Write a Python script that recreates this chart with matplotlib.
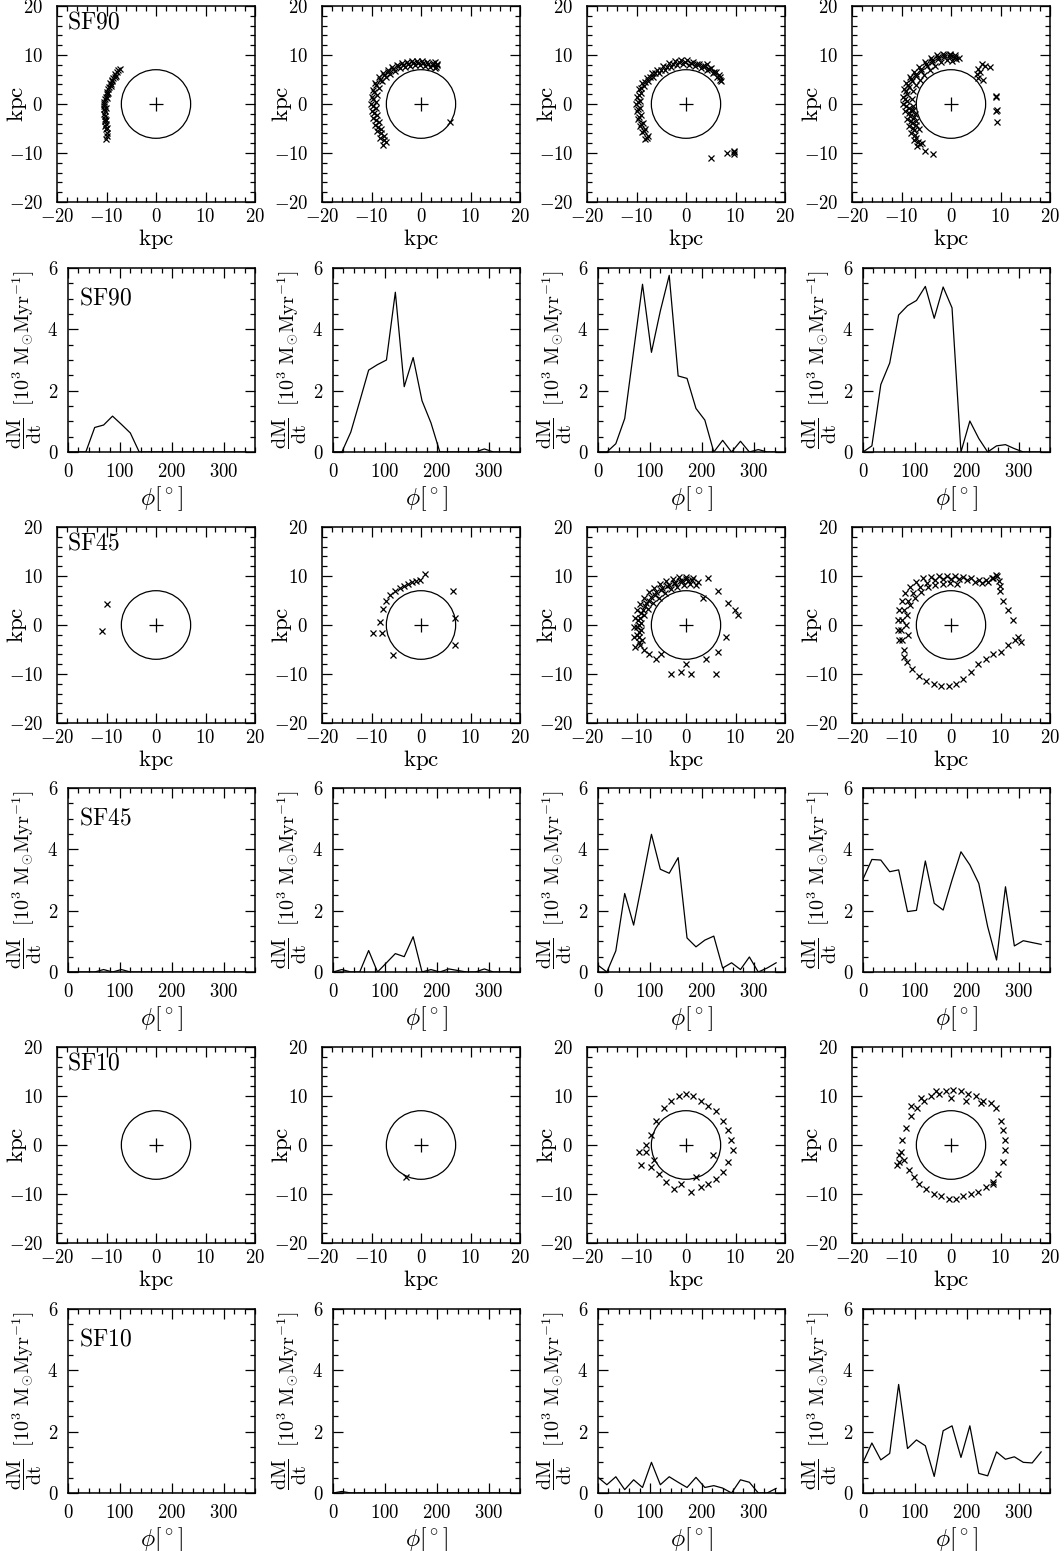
import numpy as np
import matplotlib
matplotlib.use('Agg')
import matplotlib.pyplot as plt
from matplotlib.ticker import MultipleLocator, FuncFormatter
from matplotlib.patches import Circle

plt.rcParams['mathtext.fontset'] = 'cm'
plt.rcParams['font.family'] = 'serif'
plt.rcParams['font.serif'] = ['DejaVu Serif']

# ---------------- data ----------------
phi_bins = [0, 17.1, 34.3, 51.4, 68.6, 85.7, 102.9, 120.0, 137.1, 154.3, 171.4,
            188.6, 205.7, 222.9, 240.0, 257.1, 274.3, 291.4, 308.6, 325.7, 342.9]

# dM/dt [1e3 Msun/Myr]
sf90_t1 = [0, 0, 0, 0.80, 0.88, 1.17, 0.90, 0.62, 0, 0, 0, 0, 0, 0, 0, 0, 0, 0, 0, 0, 0]
sf90_t2 = [0, 0, 0.65, 1.65, 2.67, 2.85, 3.00, 5.21, 2.13, 3.08, 1.67, 0.95, 0, 0, 0, 0, 0, 0.10, 0, 0, 0]
sf90_t3 = [0, 0, 0.27, 1.09, 3.30, 5.47, 3.25, 4.60, 5.76, 2.48, 2.40, 1.42, 1.04, 0, 0.38, 0, 0.35, 0, 0.08, 0, 0]
sf90_t4 = [0, 0.20, 2.20, 2.90, 4.47, 4.77, 4.94, 5.40, 4.36, 5.38, 4.70, 0, 1.01, 0.44, 0, 0.20, 0.24, 0.11, 0, 0, 0]

sf45_t1 = [0, 0, 0, 0, 0.08, 0, 0.08, 0, 0, 0, 0, 0, 0, 0, 0, 0, 0, 0, 0, 0, 0]
sf45_t2 = [0, 0.08, 0, 0, 0.70, 0, 0.30, 0.60, 0.50, 1.15, 0, 0.08, 0, 0.10, 0.05, 0, 0, 0.10, 0, 0, 0]
sf45_t3 = [0.22, 0, 0.69, 2.56, 1.53, 2.99, 4.49, 3.35, 3.22, 3.73, 1.11, 0.82, 1.04, 1.17, 0.13, 0.30, 0.08, 0.49, 0, 0.13, 0.30]
sf45_t4 = [3.03, 3.67, 3.65, 3.27, 3.33, 1.97, 2.01, 3.62, 2.24, 2.02, 3.00, 3.92, 3.49, 2.89, 1.48, 0.39, 2.78, 0.85, 1.02, 0.96, 0.90]

sf10_t1 = [0] * 21
sf10_t2 = [0, 0.05, 0, 0, 0, 0, 0, 0, 0, 0, 0, 0, 0, 0, 0, 0, 0, 0, 0, 0, 0]
sf10_t3 = [0.51, 0.27, 0.53, 0.11, 0.43, 0.18, 1.00, 0.27, 0.53, 0.35, 0.18, 0.51, 0.18, 0.24, 0.16, 0, 0.43, 0.35, 0, 0, 0.15]
sf10_t4 = [1.00, 1.63, 1.08, 1.29, 3.54, 1.45, 1.73, 1.54, 0.54, 2.03, 2.19, 1.16, 2.19, 0.64, 0.56, 1.34, 1.10, 1.18, 1.00, 0.98, 1.34]

# particle positions [kpc]
sf90_p1_x = [-7.6, -7.9, -8.3, -8.0, -8.6, -8.9, -9.1, -9.4, -9.6, -9.8, -10.0, -10.2, -10.4, -10.5,
             -10.6, -10.5, -10.6, -10.4, -10.5, -10.3, -10.4, -10.3, -10.2, -10.3, -10.1, -10.0, -9.9, -10.1,
             -7.2, -8.8, -9.3, -10.0, -8.2, -9.0, -9.6, -10.1, -10.2, -10.0]
sf90_p1_y = [6.9, 6.5, 6.2, 5.8, 5.3, 4.6, 4.0, 3.5, 3.0, 2.5, 2.0, 1.5, 1.0, 0.5,
             0.0, -0.5, -1.0, -1.5, -2.0, -2.5, -3.0, -3.5, -4.0, -4.5, -5.0, -6.0, -6.5, -7.2,
             7.1, 5.0, 4.2, 1.2, 5.6, 3.6, 2.2, -0.8, -3.2, -4.8]

sf90_p2_x = [-7.6, -8.2, -8.8, -9.3, -9.7, -10.0, -10.1, -10.0, -9.7, -9.2, -8.5, -7.6, -6.7, -5.8, -4.8,
             -3.8, -2.8, -1.8, -0.8, 0.2, 1.2, 2.4, 3.3,
             -7.0, -7.5, -8.0, -8.5, -8.9, -9.1, -9.1, -8.9, -8.5, -7.9, -7.1, -6.2, -5.2, -4.2,
             -3.2, -2.2, -1.2, -0.2, 0.8, 1.8, 2.8, 5.9,
             -7.4, -8.0, -8.6, -9.1, -9.4, -9.6, -9.6, -9.4, -9.0, -8.3, -7.5, -6.6, -5.6, -4.6,
             -3.6, -2.6, -1.6, -0.6, 0.4, 1.4, 2.4, 3.0, 3.3, 2.9]
sf90_p2_y = [-8.3, -7.0, -5.6, -4.2, -2.8, -1.4, 0.0, 1.4, 2.8, 4.2, 5.5, 6.3, 7.0, 7.6, 8.0,
             8.4, 8.6, 8.7, 8.8, 8.7, 8.6, 8.4, 8.2,
             -7.8, -6.5, -5.1, -3.7, -2.3, -0.9, 0.5, 1.9, 3.3, 4.6, 5.5, 6.2, 6.8, 7.3,
             7.6, 7.8, 7.9, 7.9, 7.8, 7.6, 7.3, -3.6,
             -7.4, -6.0, -4.6, -3.2, -1.8, -0.4, 1.0, 2.4, 3.8, 5.0, 5.9, 6.6, 7.2, 7.7,
             8.0, 8.2, 8.3, 8.4, 8.3, 8.2, 8.0, 7.6, 7.9, 8.6]

sf90_p3_x = [-8.2, -8.8, -9.3, -9.7, -10.0, -10.1, -9.9, -9.5, -8.8, -7.9, -6.9, -5.8, -4.6, -3.4, -2.2,
             -1.0, 0.3, 1.5, 2.7, 3.9, 5.0, 6.0, 6.8, 7.1,
             -7.6, -8.2, -8.7, -9.1, -9.3, -9.3, -9.0, -8.4, -7.6, -6.6, -5.5, -4.3, -3.1, -1.9,
             -0.6, 0.7, 1.9, 3.1, 4.3, 5.4, 6.3, 4.3, 5.1, 8.3, 9.6, 9.7, 9.6,
             -7.9, -8.5, -9.0, -9.4, -9.7, -9.7, -9.5, -9.0, -8.2, -7.3, -6.2, -5.1, -3.9, -2.7,
             -1.5, -0.2, 1.1, 2.3, 3.5, 4.6, 5.7, 6.6, 6.9]
sf90_p3_y = [-7.2, -5.8, -4.4, -3.0, -1.5, 0.0, 1.5, 3.0, 4.3, 5.4, 6.3, 7.0, 7.7, 8.3, 8.7,
             8.9, 8.9, 8.6, 8.2, 7.8, 7.3, 6.6, 5.6, 4.6,
             -6.6, -5.2, -3.8, -2.3, -0.8, 0.7, 2.2, 3.6, 4.7, 5.6, 6.3, 7.0, 7.6, 7.9,
             8.1, 8.0, 7.8, 7.4, 7.0, 6.4, 5.6, 8.2, -11.0, -9.9, -9.5, -9.8, -10.2,
             -6.9, -5.5, -4.1, -2.6, -1.1, 0.4, 1.9, 3.3, 4.5, 5.5, 6.3, 7.0, 7.6, 8.1,
             8.5, 8.6, 8.4, 8.1, 7.7, 7.2, 6.6, 5.9, 5.0]

sf90_p4_x = [-6.8, -7.4, -8.0, -8.5, -8.8, -9.2, -9.6, -9.7, -9.5, -9.0, -8.3, -7.4, -6.4, -5.3, -4.1,
             -2.9, -1.6, -0.3, 0.9, 1.6,
             -6.3, -7.0, -7.5, -7.9, -8.2, -8.5, -8.8, -8.8, -8.4, -7.8, -7.0, -6.0, -4.9, -3.8,
             -2.6, -1.4, -0.2, 1.0,
             -6.5, -7.0, -7.3, -7.6, -7.8, -7.6, -7.1, -6.3, -5.4, -4.3, -3.2, -2.1, -0.9, 0.3,
             -5.3, -3.6, -5.9, 5.2, 5.5, 6.2, 6.9, 7.9, 6.5, 5.5, 5.8, 9.1, 9.1, 9.1, 9.2, 9.2,
             -6.6, -7.2, -7.7, -8.1, -8.4, -8.1, -9.0, -9.2, -9.1, -8.7, -8.0, -7.1, -6.1, -5.0,
             -3.9, -2.7, -1.5, -0.3, 0.9, -7.1, -7.4, -7.7]
sf90_p4_y = [-8.6, -7.4, -6.0, -4.5, -3.0, -1.5, 0.0, 1.5, 3.0, 4.3, 5.5, 6.6, 7.6, 8.5, 9.3,
             9.9, 10.2, 10.2, 9.9, 9.4,
             -8.2, -6.9, -5.4, -3.9, -2.4, -0.9, 0.6, 2.1, 3.5, 4.7, 5.8, 6.8, 7.7, 8.5,
             9.2, 9.6, 9.5, 9.2,
             -5.0, -3.5, -2.0, -0.5, 1.0, 2.6, 3.9, 5.0, 6.0, 6.9, 7.8, 8.6, 9.0, 8.8,
             -9.5, -10.2, -8.0, 6.1, 7.1, 8.2, 7.8, 7.5, 4.8, 5.4, 6.6, 1.6, 1.4, -1.4, -1.2, -3.7,
             -7.8, -6.4, -4.9, -3.4, -1.9, -1.2, -0.5, 1.0, 2.6, 3.9, 5.1, 6.2, 7.2, 8.1,
             8.9, 9.6, 9.9, 9.9, 9.6, -4.2, -2.7, -1.2]

sf45_p1_x = [-10.9, -9.9]
sf45_p1_y = [-1.2, 4.3]

sf45_p2_x = [-8.3, -9.7, -7.9, -7.7, -7.0, -6.2, -5.2, -4.3, -3.4, -2.6, -1.8, -1.0, -0.3, 0.8, 6.5, 6.9, 6.9, -5.7]
sf45_p2_y = [0.6, -1.6, -1.6, 3.2, 5.0, 6.2, 7.0, 7.6, 8.0, 8.3, 8.7, 9.0, 9.2, 10.5, 6.9, 1.4, -4.0, -6.1]

sf45_p3_x = [-9.5, -9.8, -9.9, -9.6, -9.0, -8.3, -7.4, -6.3, -5.1, -3.8, -2.5, -1.2, 0.0, 1.2, 2.4,
             -8.8, -9.1, -9.0, -8.5, -7.7, -6.7, -5.5, -4.3, -3.0, -1.8, -0.5, 0.8,
             -8.5, -7.5, -6.0, 4.5, 6.5, 8.5, 9.8, 10.5, 8.0, 6.5, 0.0, -1.0, 1.0, -3.0, 6.0, 4.0, -5.0, 3.5,
             -10.3, -10.5, -10.6, -10.3, -9.8, -9.2, -8.4, -7.5, -6.4, -5.2, -4.0, -2.7, -1.4, -0.1, 1.5,
             -9.2, -9.5, -9.5, -9.4, -9.3, -8.7, -8.0, -7.0, -6.0, -4.8, -3.5, -2.2, -0.8, 0.5, 2.0]
sf45_p3_y = [-3.5, -2.0, -0.5, 1.0, 2.5, 3.8, 5.0, 6.2, 7.2, 8.0, 8.6, 9.0, 9.3, 9.2, 8.8,
             -3.0, -1.0, 0.5, 2.0, 3.3, 4.5, 5.6, 6.5, 7.3, 7.8, 8.2, 8.4,
             -5.0, -6.0, -7.0, 9.5, 7.0, 4.5, 3.0, 2.0, -2.5, -5.5, -8.0, -9.5, -10.0, -10.0, -10.0, -7.0, -6.0, 5.5,
             -4.5, -2.5, -0.5, 1.5, 3.0, 4.3, 5.6, 6.7, 7.6, 8.3, 8.9, 9.4, 9.7, 9.8, 9.6,
             -4.0, -2.5, -1.5, 0.0, 1.5, 3.0, 4.5, 5.8, 6.8, 7.5, 8.2, 8.6, 8.9, 9.0, 8.2]

sf45_p4_x = [-9.5, -10.0, -10.2, -10.0, -9.5, -8.7, -7.6, -6.3, -4.8, -3.2, -1.6, 0.0, 1.6, 3.2, 4.8,
             6.3, 7.5, 8.5, 9.2, 9.8, 10.5, 11.5, 12.5, 13.5, 14.2, 13.0, 11.5, 10.0, 8.5, 7.0,
             5.5, 4.0, 2.5, 1.0, -0.5, -2.0, -3.5, -5.0, -6.5, -7.8, -8.8, -9.5,
             -8.7, -9.0, -8.8, -8.2, -7.3, -6.1, -4.7, -3.2, -1.7, -0.2, 1.3,
             -10.5, -10.8, -10.8, -10.5, -10.0, -9.2, -8.2, -7.0, -5.6, -4.0, -2.4, -0.8, 0.8, 2.4,
             4.0, 5.6, 7.0, 8.2, 9.0, 9.6, 9.8]
sf45_p4_y = [-5.0, -3.0, -1.0, 1.0, 3.0, 5.0, 6.6, 7.8, 8.6, 9.1, 9.3, 9.4, 9.3, 9.1, 8.8,
             8.5, 8.8, 9.5, 10.0, 7.0, 5.0, 3.0, 1.0, -2.5, -3.5, -3.0, -4.0, -5.5, -6.0, -7.0,
             -8.0, -9.5, -11.0, -12.0, -12.5, -12.5, -12.0, -11.5, -10.5, -9.0, -7.5, -6.5,
             -2.0, 0.0, 2.0, 4.0, 5.5, 6.8, 7.7, 8.2, 8.4, 8.5, 8.4,
             -3.0, -1.0, 1.0, 3.0, 5.0, 6.5, 7.8, 8.8, 9.5, 9.8, 10.0, 10.1, 10.0, 9.8,
             9.5, 9.2, 9.2, 9.6, 10.2, 9.0, 8.0]

sf10_p1_x = []
sf10_p1_y = []

sf10_p2_x = [-3.0]
sf10_p2_y = [-6.6]

sf10_p3_x = [-9.0, -8.0, -7.0, -6.0, -4.5, -3.0, -1.5, 0.0, 1.5, 3.0, 4.5, 6.0, 7.5, 8.5, 9.0,
             9.5, 8.5, 7.5, 6.0, 4.5, 3.0, 1.0, -1.0, -2.5, -4.0, -5.5, -7.0, -8.0, -9.5, -6.5, 5.5, 2.0]
sf10_p3_y = [-4.0, -1.5, 2.0, 5.0, 7.5, 9.0, 10.0, 10.5, 10.0, 9.0, 8.0, 7.0, 5.0, 3.0, 1.0,
             -1.0, -3.5, -5.5, -7.0, -8.0, -8.5, -9.5, -8.0, -9.0, -7.5, -6.0, -4.5, 0.0, -1.5, -3.0, -2.0, -6.5]

sf10_p4_x = [-10.5, -10.2, -9.8, -9.0, -8.0, -6.8, -5.5, -4.0, -2.5, -1.0, 0.5, 2.0, 3.5, 5.0, 6.5,
             8.0, 9.0, 10.0, 10.5, 11.0, 11.0, 10.5, 9.5, 8.5, 7.0, 5.5, 4.0, 2.5, 1.0, -0.5,
             -2.0, -3.5, -5.0, -6.5, -7.5, -8.5, -9.5, -11.0, -10.5, -8.0, -6.0, -3.0, 0.0, 3.0, 6.0, 8.5]
sf10_p4_y = [-3.5, -1.5, 1.0, 3.5, 6.0, 7.5, 9.0, 10.0, 10.5, 11.0, 11.2, 11.0, 10.5, 10.0, 9.0,
             8.5, 7.5, 5.0, 3.0, 1.0, -1.0, -3.5, -6.0, -7.5, -8.5, -9.5, -10.0, -10.5, -11.0, -11.0,
             -10.5, -10.0, -9.0, -8.0, -6.5, -5.0, -3.0, -4.0, -2.0, 8.0, 9.5, 11.0, 9.5, 9.0, 8.5, -8.0]

models = ['SF90', 'SF45', 'SF10']
scatter_x = [[sf90_p1_x, sf90_p2_x, sf90_p3_x, sf90_p4_x],
             [sf45_p1_x, sf45_p2_x, sf45_p3_x, sf45_p4_x],
             [sf10_p1_x, sf10_p2_x, sf10_p3_x, sf10_p4_x]]
scatter_y = [[sf90_p1_y, sf90_p2_y, sf90_p3_y, sf90_p4_y],
             [sf45_p1_y, sf45_p2_y, sf45_p3_y, sf45_p4_y],
             [sf10_p1_y, sf10_p2_y, sf10_p3_y, sf10_p4_y]]
rates = [[sf90_t1, sf90_t2, sf90_t3, sf90_t4],
         [sf45_t1, sf45_t2, sf45_t3, sf45_t4],
         [sf10_t1, sf10_t2, sf10_t3, sf10_t4]]

# ---------------- figure ----------------
W, H = 1064, 1551
fig = plt.figure(figsize=(W / 100, H / 100), dpi=100)

def fax(left, top, w, h):
    return fig.add_axes([left / W, 1 - (top + h) / H, w / W, h / H])

def mfmt(v, pos):
    return r'$%d$' % int(round(v))

def style(ax, xmaj, xmin, ymaj, ymin, xpad, ypad):
    ax.xaxis.set_major_locator(MultipleLocator(xmaj))
    ax.xaxis.set_minor_locator(MultipleLocator(xmin))
    ax.yaxis.set_major_locator(MultipleLocator(ymaj))
    ax.yaxis.set_minor_locator(MultipleLocator(ymin))
    ax.xaxis.set_major_formatter(FuncFormatter(mfmt))
    ax.yaxis.set_major_formatter(FuncFormatter(mfmt))
    ax.tick_params(which='both', direction='in', top=True, right=True, width=0.9, labelsize=13.5)
    ax.tick_params(which='major', length=7)
    ax.tick_params(which='minor', length=3.5)
    ax.tick_params(axis='x', pad=xpad)
    ax.tick_params(axis='y', pad=ypad)
    for s in ax.spines.values():
        s.set_linewidth(1.1)

sc_left = [57, 322, 587, 852]
ln_left = [68, 333, 598, 863]
sc_top = [6, 527, 1047]
ln_top = [268, 788, 1309]

for r in range(3):
    for c in range(4):
        # scatter panel
        ax = fax(sc_left[c], sc_top[r], 198, 196)
        ax.set_xlim(-20, 20)
        ax.set_ylim(-20, 20)
        style(ax, 10, 2, 10, 2, 4, 10)
        ax.add_patch(Circle((0, 0), 7, fill=False, lw=0.9, color='black'))
        ax.plot([0], [0], marker='+', ms=10, mew=0.9, color='black', ls='none')
        if len(scatter_x[r][c]) > 0:
            ax.plot(scatter_x[r][c], scatter_y[r][c], ls='none', marker='x', ms=4.2, mew=0.9, color='black')
        ax.set_xlabel(r'$\mathrm{kpc}$', fontsize=16.5, labelpad=1)
        ax.set_ylabel(r'$\mathrm{kpc}$', fontsize=16.5)
        ax.yaxis.set_label_coords(-0.14, 0.5)
        if c == 0:
            ax.text(0.05, 0.975, r'$\mathrm{SF%s}$' % models[r][2:], transform=ax.transAxes,
                    fontsize=17, va='top', ha='left')

        # rate panel
        ax2 = fax(ln_left[c], ln_top[r], 187, 184)
        ax2.set_xlim(0, 360)
        ax2.set_ylim(0, 6)
        style(ax2, 100, 20, 2, 0.5, 8, 7)
        ax2.plot(phi_bins, rates[r][c], color='black', lw=0.9)
        ax2.set_xlabel(r'$\phi[^\circ]$', fontsize=17, labelpad=2)
        ax2.set_ylabel(r'$\dfrac{\mathrm{dM}}{\mathrm{dt}}\ \ [10^3\ \mathrm{M_{\odot}Myr^{-1}}]$',
                       fontsize=14.5)
        ax2.yaxis.set_label_coords(-0.13, 0.5)
        if c == 0:
            ax2.text(0.06, 0.9, r'$\mathrm{SF%s}$' % models[r][2:], transform=ax2.transAxes,
                     fontsize=17, va='top', ha='left')

fig.savefig('out.png', dpi=100)
